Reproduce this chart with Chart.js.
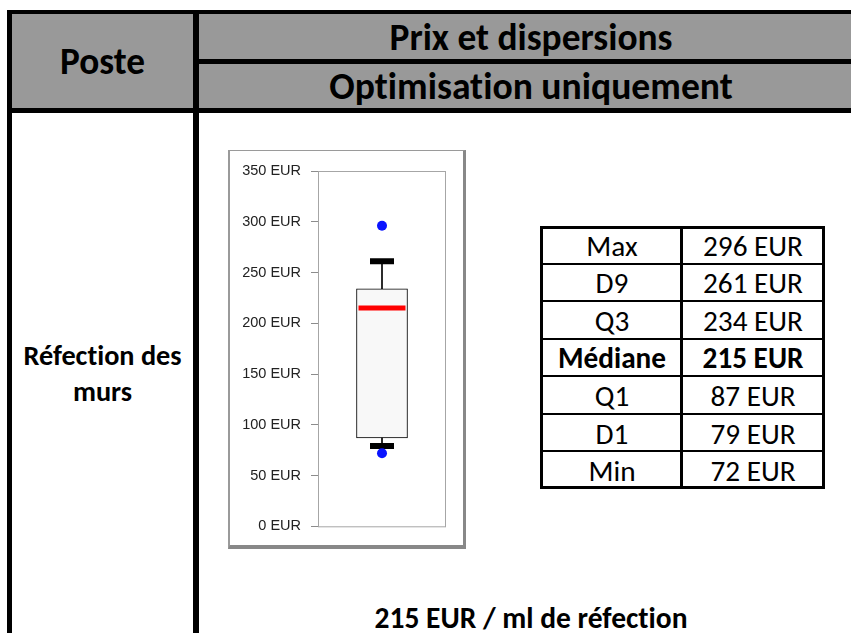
<!DOCTYPE html>
<html>
<head>
<meta charset="utf-8">
<script src="https://cdn.jsdelivr.net/npm/chart.js@4.4.1/dist/chart.umd.min.js"></script>
<style>
  html, body { margin:0; padding:0; background:#fff; }
  body { width:851px; height:633px; overflow:hidden; position:relative; font-family: Carlito, Lato, "Open Sans", sans-serif; color:#000;
         font-variant-ligatures: none; font-feature-settings: "liga" 0, "clig" 0; }
  .abs { position:absolute; }
  .txt { position:absolute; display:flex; align-items:center; justify-content:center; white-space:nowrap; }
  #frame { position:absolute; left:228px; top:150px; width:238px; height:399px; box-sizing:border-box;
           border-left:2px solid #9a9a9a; border-top:1px solid #9a9a9a; border-right:3px solid #888; border-bottom:4px solid #888; background:#fff; }
  #cv { position:absolute; left:230px; top:151px; }
</style>
</head>
<body>
<div id="page"></div>
<div id="frame"></div>
<canvas id="cv" width="233" height="394"></canvas>
<script>
// ---- data ----
const posteHeader = 'Poste';
const groupHeader = 'Prix et dispersions';
const subHeader = 'Optimisation uniquement';
const categories = ['Réfection des murs'];
const statLabels = ['Max', 'D9', 'Q3', 'Médiane', 'Q1', 'D1', 'Min'];
const statValues = [296, 261, 234, 215, 87, 79, 72];
const unit = 'EUR';
const yTickValues = [0, 50, 100, 150, 200, 250, 300, 350];
const footerText = '215 EUR / ml de réfection';

const [vMax, vD9, vQ3, vMed, vQ1, vD1, vMin] = statValues;

// ---- layout helpers ----
const page = document.getElementById('page');
const mctx = document.createElement('canvas').getContext('2d');
const FAM = 'Carlito, Lato, sans-serif';
function fitSize(text, weight, target) {
  mctx.font = weight + ' 100px ' + FAM;
  return 100 * target / mctx.measureText(text).width;
}
function block(x, y, w, h, color) {
  const d = document.createElement('div');
  d.className = 'abs';
  d.style.cssText = `left:${x}px;top:${y}px;width:${w}px;height:${h}px;background:${color};`;
  page.appendChild(d);
}
function text(str, x1, y1, x2, y2, weight, size, lh) {
  const d = document.createElement('div');
  d.className = 'txt';
  d.textContent = str;
  d.style.cssText += `left:${x1}px;top:${y1}px;width:${x2-x1}px;height:${y2-y1}px;font-weight:${weight};font-size:${size}px;font-family:${FAM};` + (lh ? `line-height:${lh};` : '');
  page.appendChild(d);
  return d;
}

// header background and grid lines
block(7, 10, 900, 103, '#999999');
block(7, 10, 900, 4, '#000');
block(7, 10, 5, 700, '#000');
block(193, 10, 6, 700, '#000');
block(193, 59, 700, 5, '#000');
block(7, 108, 900, 5, '#000');

text(posteHeader, 12, 14, 193, 108, 700, fitSize(posteHeader, 700, 85));
text(groupHeader, 199, 14, 863, 59, 700, fitSize(groupHeader, 700, 283));
text(subHeader, 199, 64, 863, 108, 700, fitSize(subHeader, 700, 403));

// body left cell
const catSize = fitSize('Réfection des', 700, 158);
const words = categories[0].split(' ');
text(words.slice(0, 2).join(' '), 12, 339, 193, 372, 700, catSize);
text(words.slice(2).join(' '), 12, 375, 193, 408, 700, catSize);

// stats table
const tL = 540, tR = 825, tT = 226, tB = 489, tC = 681;
const rowH = (tB - tT) / statLabels.length;
const statSize = fitSize('296 EUR', 400, 100);
statLabels.forEach((lab, i) => {
  const y1 = tT + i * rowH, y2 = y1 + rowH;
  const w = lab === 'Médiane' ? 700 : 400;
  text(lab, tL + 3, y1 + 1, tC, y2 + 1, w, statSize);
  text(statValues[i] + ' ' + unit, tC + 3, y1 + 1, tR - 3, y2 + 1, w, statSize);
  if (i > 0) block(tL, Math.round(y1) - 1, tR - tL, 2, '#000');
});
block(tL, tT, tR - tL, 3, '#000');
block(tL, tB - 3, tR - tL, 3, '#000');
block(tL, tT, 3, tB - tT, '#000');
block(tR - 3, tT, 3, tB - tT, '#000');
block(tC - 1, tT, 3, tB - tT, '#000');

// footer
text(footerText, 199, 607, 863, 630, 700, fitSize(footerText, 700, 313), 0.8);

// ---- chart ----
const plotFrame = {
  id: 'plotFrame',
  beforeDatasetsDraw(chart) {
    const a = chart.chartArea, c = chart.ctx;
    c.save();
    c.strokeStyle = '#a6a6a6';
    c.lineWidth = 1;
    c.strokeRect(a.left + 0.5, a.top + 0.5, a.right - a.left - 1, a.bottom - a.top);
    c.restore();
  }
};

new Chart(document.getElementById('cv'), {
  type: 'bar',
  data: {
    labels: categories,
    datasets: [
      { type: 'bar', label: 'Q1-Q3', data: [[vQ1, vQ3]], backgroundColor: '#f8f8f8', borderColor: '#000',
        borderWidth: 1, borderSkipped: false, barThickness: 51, grouped: false, order: 5 },
      { type: 'bar', label: 'Q3-D9', data: [[vQ3, vD9]], backgroundColor: '#000', borderWidth: 0,
        barThickness: 1, grouped: false, order: 4 },
      { type: 'bar', label: 'D1-Q1', data: [[vD1, vQ1]], backgroundColor: '#000', borderWidth: 0,
        barThickness: 1, grouped: false, order: 4 },
      { type: 'line', label: 'D9', data: [vD9], showLine: false, pointStyle: 'line', pointRadius: 12,
        pointBorderWidth: 6, pointBorderColor: '#000', order: 2 },
      { type: 'line', label: 'D1', data: [vD1], showLine: false, pointStyle: 'line', pointRadius: 12,
        pointBorderWidth: 6, pointBorderColor: '#000', order: 2 },
      { type: 'line', label: 'Médiane', data: [vMed], showLine: false, pointStyle: 'line', pointRadius: 23.5,
        pointBorderWidth: 5, pointBorderColor: '#ff0000', order: 1 },
      { type: 'line', label: 'Max', data: [vMax], showLine: false, pointStyle: 'circle', pointRadius: 5,
        pointBorderWidth: 0, pointBackgroundColor: '#0a14ff', order: 0 },
      { type: 'line', label: 'Min', data: [vMin], showLine: false, pointStyle: 'circle', pointRadius: 5,
        pointBorderWidth: 0, pointBackgroundColor: '#0a14ff', order: 0 }
    ]
  },
  options: {
    responsive: false,
    animation: false,
    events: [],
    layout: { autoPadding: false, padding: { top: 20, right: 17, bottom: 18, left: 0 } },
    plugins: { legend: { display: false }, tooltip: { enabled: false } },
    scales: {
      x: { display: false },
      y: {
        min: yTickValues[0], max: yTickValues[yTickValues.length - 1],
        afterBuildTicks(s) { s.ticks = yTickValues.map(v => ({ value: v })); },
        afterFit(s) { s.width = 88; },
        ticks: { callback: v => v + ' ' + unit, color: '#222', padding: 10,
                 font: { family: 'Liberation Sans, Arial, sans-serif', size: 14.5 } },
        grid: { drawOnChartArea: false, tickLength: 7, color: '#8c8c8c' },
        border: { display: true, color: '#a6a6a6' }
      }
    }
  },
  plugins: [plotFrame]
});
</script>
</body>
</html>
